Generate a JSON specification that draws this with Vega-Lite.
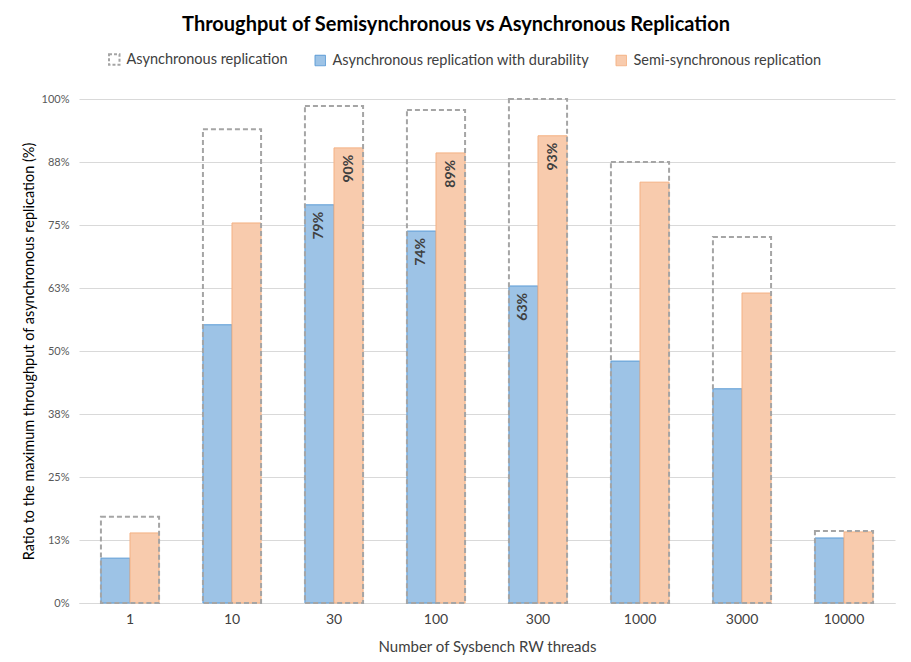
{
  "$schema": "https://vega.github.io/schema/vega-lite/v6.json",
  "width": 816,
  "height": 504,
  "autosize": {"type": "none"},
  "padding": {"left": 79, "top": 99, "right": 16, "bottom": 59},
  "background": "white",
  "title": {
    "text": "Throughput of Semisynchronous vs  Asynchronous Replication",
    "font": "Lato",
    "fontSize": 20,
    "fontWeight": "bold",
    "color": "#000000",
    "anchor": "middle",
    "frame": "group",
    "dx": -31,
    "offset": 17
  },
  "config": {
    "view": {"stroke": null},
    "font": "Lato",
    "axis": {"labelFont": "Lato", "titleFont": "Lato"},
    "legend": {"labelFont": "Lato"}
  },
  "data": {
    "values": [
      {"threads": "1", "series": "Asynchronous replication", "value": 0.171},
      {"threads": "10", "series": "Asynchronous replication", "value": 0.940},
      {"threads": "30", "series": "Asynchronous replication", "value": 0.986},
      {"threads": "100", "series": "Asynchronous replication", "value": 0.978},
      {"threads": "300", "series": "Asynchronous replication", "value": 1.0},
      {"threads": "1000", "series": "Asynchronous replication", "value": 0.875},
      {"threads": "3000", "series": "Asynchronous replication", "value": 0.726},
      {"threads": "10000", "series": "Asynchronous replication", "value": 0.143},
      {"threads": "1", "series": "Asynchronous replication with durability", "value": 0.089},
      {"threads": "10", "series": "Asynchronous replication with durability", "value": 0.552},
      {"threads": "30", "series": "Asynchronous replication with durability", "value": 0.790},
      {"threads": "100", "series": "Asynchronous replication with durability", "value": 0.738},
      {"threads": "300", "series": "Asynchronous replication with durability", "value": 0.629},
      {"threads": "1000", "series": "Asynchronous replication with durability", "value": 0.480},
      {"threads": "3000", "series": "Asynchronous replication with durability", "value": 0.425},
      {"threads": "10000", "series": "Asynchronous replication with durability", "value": 0.129},
      {"threads": "1", "series": "Semi-synchronous replication", "value": 0.139},
      {"threads": "10", "series": "Semi-synchronous replication", "value": 0.754},
      {"threads": "30", "series": "Semi-synchronous replication", "value": 0.903},
      {"threads": "100", "series": "Semi-synchronous replication", "value": 0.893},
      {"threads": "300", "series": "Semi-synchronous replication", "value": 0.927},
      {"threads": "1000", "series": "Semi-synchronous replication", "value": 0.835},
      {"threads": "3000", "series": "Semi-synchronous replication", "value": 0.615},
      {"threads": "10000", "series": "Semi-synchronous replication", "value": 0.141}
    ]
  },
  "encoding": {
    "x": {
      "field": "threads",
      "type": "ordinal",
      "sort": ["1", "10", "30", "100", "300", "1000", "3000", "10000"],
      "scale": {"paddingInner": 0.43, "paddingOuter": 0.215},
      "axis": {
        "title": "Number of Sysbench RW threads",
        "titleFontSize": 15,
        "titleFontWeight": "normal",
        "titleColor": "#404040",
        "titlePadding": 13,
        "labelAngle": 0,
        "labelFontSize": 14,
        "labelColor": "#404040",
        "labelPadding": 9,
        "ticks": false,
        "domainColor": "#D9D9D9",
        "domainWidth": 1
      }
    },
    "y": {
      "field": "value",
      "type": "quantitative",
      "scale": {"domain": [0, 1], "nice": false},
      "axis": {
        "title": "Ratio to the maximum throughput of asynchronous replication (%)",
        "titleFontSize": 14.5,
        "titleFontWeight": "normal",
        "titleColor": "#000000",
        "titlePadding": 5,
        "values": [0, 0.125, 0.25, 0.375, 0.5, 0.625, 0.75, 0.875, 1],
        "format": ".0%",
        "labelFontSize": 11,
        "labelColor": "#595959",
        "labelPadding": 10,
        "ticks": false,
        "domain": false,
        "gridColor": "#D9D9D9",
        "gridWidth": 1
      }
    }
  },
  "layer": [
    {
      "transform": [{"filter": "datum.series !== 'Asynchronous replication'"}],
      "mark": {"type": "bar", "strokeWidth": 1},
      "encoding": {
        "xOffset": {
          "field": "series",
          "type": "nominal",
          "scale": {"domain": ["Asynchronous replication with durability", "Semi-synchronous replication"], "paddingInner": 0, "paddingOuter": 0}
        },
        "color": {
          "field": "series",
          "type": "nominal",
          "scale": {
            "domain": ["Asynchronous replication", "Asynchronous replication with durability", "Semi-synchronous replication"],
            "range": ["#FFFFFF", "#9DC3E6", "#F8CBAD"]
          },
          "legend": {
            "orient": "none",
            "direction": "horizontal",
            "legendX": 28,
            "legendY": -47,
            "title": null,
            "symbolType": "square",
            "symbolSize": 110,
            "labelFontSize": 14.5,
            "labelColor": "#404040",
            "labelOffset": 5,
            "labelLimit": 0,
            "columnPadding": 25,
            "encode": {
              "symbols": {
                "update": {
                  "fill": {"signal": "datum.value === 'Asynchronous replication' ? '#FFFFFF' : datum.value === 'Asynchronous replication with durability' ? '#9DC3E6' : '#F8CBAD'"},
                  "stroke": {"signal": "datum.value === 'Asynchronous replication' ? '#A5A5A5' : datum.value === 'Asynchronous replication with durability' ? '#5B9BD5' : '#F4B183'"},
                  "strokeWidth": {"signal": "datum.value === 'Asynchronous replication' ? 2 : 1"},
                  "strokeDash": {"signal": "datum.value === 'Asynchronous replication' ? [3, 2] : [1, 0]"},
                  "opacity": {"value": 1}
                }
              }
            }
          }
        },
        "stroke": {
          "field": "series",
          "type": "nominal",
          "scale": {
            "domain": ["Asynchronous replication with durability", "Semi-synchronous replication"],
            "range": ["#5B9BD5", "#F4B183"]
          },
          "legend": null
        }
      }
    },
    {
      "transform": [{"filter": "datum.series === 'Asynchronous replication'"}],
      "mark": {"type": "bar", "filled": false, "stroke": "#A5A5A5", "strokeWidth": 2, "strokeDash": [5, 3]},
      "encoding": {}
    },
    {
      "transform": [
        {"filter": "datum.series !== 'Asynchronous replication'"},
        {"filter": {"field": "threads", "oneOf": ["30", "100", "300"]}}
      ],
      "mark": {
        "type": "text",
        "angle": 270,
        "align": "right",
        "baseline": "middle",
        "dx": -7,
        "fontSize": 14,
        "fontWeight": "bold",
        "color": "#404040"
      },
      "encoding": {
        "xOffset": {
          "field": "series",
          "type": "nominal",
          "scale": {"domain": ["Asynchronous replication with durability", "Semi-synchronous replication"], "paddingInner": 0, "paddingOuter": 0}
        },
        "text": {"field": "value", "type": "quantitative", "format": ".0%"}
      }
    }
  ]
}
